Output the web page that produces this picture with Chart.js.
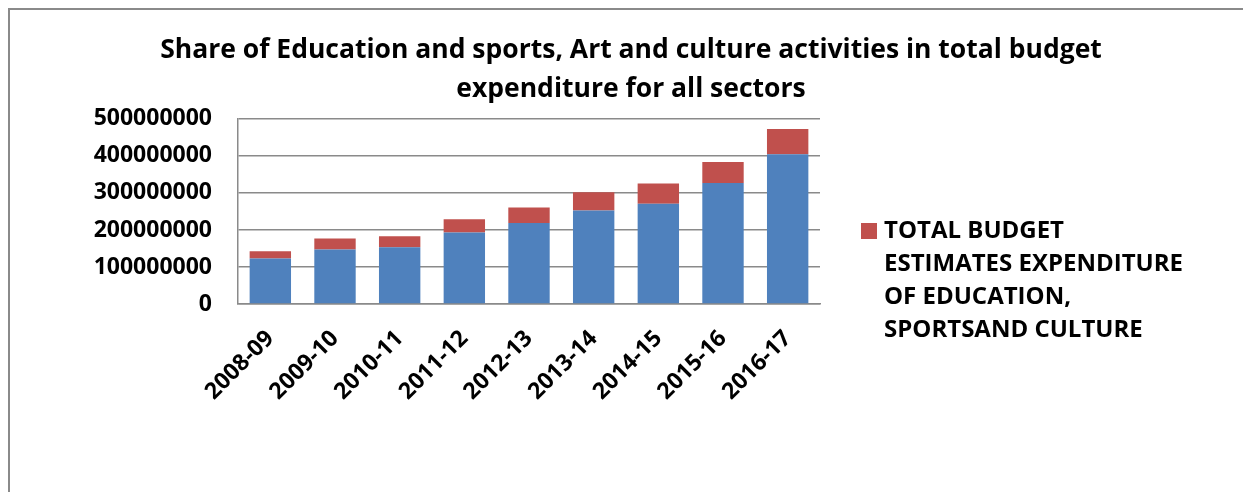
<!DOCTYPE html>
<html>
<head>
<meta charset="utf-8">
<script src="https://cdn.jsdelivr.net/npm/chart.js@4.4.0/dist/chart.umd.min.js"></script>
<style>
  body { margin: 0; background: #fff; overflow: hidden; }
  #wrap { position: relative; width: 1243px; height: 492px; }
  #frame { position: absolute; left: 8px; top: 8px; width: 1260px; height: 520px; border: 2px solid #8a8a8a; box-sizing: border-box; }
  canvas { position: absolute; left: 0; top: 0; }
</style>
</head>
<body>
<div id="wrap">
  <div id="frame"></div>
  <canvas id="myChart" width="1243" height="492"></canvas>
</div>
<script>
'use strict';

// chart data
var years = ['2008-09', '2009-10', '2010-11', '2011-12', '2012-13', '2013-14', '2014-15', '2015-16', '2016-17'];
var baseValues = [123000000, 147500000, 153600000, 193000000, 218800000, 252800000, 270800000, 327100000, 404800000];
var eduValues = [19800000, 29400000, 29500000, 35700000, 42100000, 49100000, 54400000, 56300000, 67900000];
var yTicks = [0, 100000000, 200000000, 300000000, 400000000, 500000000];
var titleLines = ['Share of Education and sports, Art and culture activities in total budget', 'expenditure for all sectors'];
var legendLines = ['TOTAL BUDGET', 'ESTIMATES EXPENDITURE', 'OF EDUCATION,', 'SPORTSAND CULTURE'];

var fontName = '"Open Sans", Lato, sans-serif';

// legend drawn next to the plot, only the red series is listed
var sideLegend = {
  id: 'sideLegend',
  afterDraw: function(chart) {
    var ctx = chart.ctx;
    var x = chart.chartArea.right + 41;
    var y = 231;
    ctx.save();
    ctx.fillStyle = '#C0504D';
    ctx.fillRect(x, y - 8, 16, 16);
    ctx.fillStyle = '#000';
    ctx.font = 'bold 24px ' + fontName;
    ctx.textBaseline = 'middle';
    for (var i = 0; i < legendLines.length; i++) {
      ctx.fillText(legendLines[i], x + 23, y + i * 33);
    }
    ctx.restore();
  }
};

var ctx = document.getElementById('myChart').getContext('2d');

var barChart = new Chart(ctx, {
  type: 'bar',
  data: {
    labels: years,
    datasets: [
      {
        label: '',
        data: baseValues,
        backgroundColor: '#4F81BD',
        categoryPercentage: 1,
        barPercentage: 0.64
      },
      {
        label: legendLines.join(' '),
        data: eduValues,
        backgroundColor: '#C0504D',
        categoryPercentage: 1,
        barPercentage: 0.64
      }
    ]
  },
  options: {
    responsive: false,
    animation: false,
    layout: { padding: { left: 19, right: 0, top: 0, bottom: 0 } },
    plugins: {
      legend: { display: false },
      tooltip: { enabled: false },
      title: {
        display: true,
        text: titleLines,
        color: '#000',
        font: { family: fontName, size: 26.5, weight: 'bold', lineHeight: 1.47 },
        padding: { top: 31, bottom: 10 }
      }
    },
    scales: {
      x: {
        stacked: true,
        grid: { display: false, drawTicks: false },
        border: { display: true, color: '#8a8a8a', width: 1.5 },
        ticks: {
          color: '#000',
          font: { family: fontName, size: 23, weight: 'bold' },
          minRotation: 45,
          maxRotation: 45,
          padding: 21
        },
        afterFit: function(scale) { scale.height = 188; }
      },
      y: {
        stacked: true,
        min: 0,
        max: 500000000,
        grid: { color: '#8a8a8a', lineWidth: 1.5, drawTicks: false },
        border: { display: true, color: '#8a8a8a', width: 1.5 },
        afterBuildTicks: function(scale) {
          scale.ticks = yTicks.map(function(v) { return { value: v }; });
        },
        ticks: {
          color: '#000',
          font: { family: fontName, size: 23, weight: 'bold' },
          padding: 26,
          callback: function(value) { return String(value); }
        },
        afterFit: function(scale) { scale.width = 219; }
      },
      spacer: {
        type: 'linear',
        position: 'right',
        display: true,
        grid: { display: false, drawTicks: false },
        border: { display: false },
        ticks: { display: false },
        afterFit: function(scale) { scale.width = 423; }
      }
    }
  },
  plugins: [sideLegend]
});
</script>
</body>
</html>
